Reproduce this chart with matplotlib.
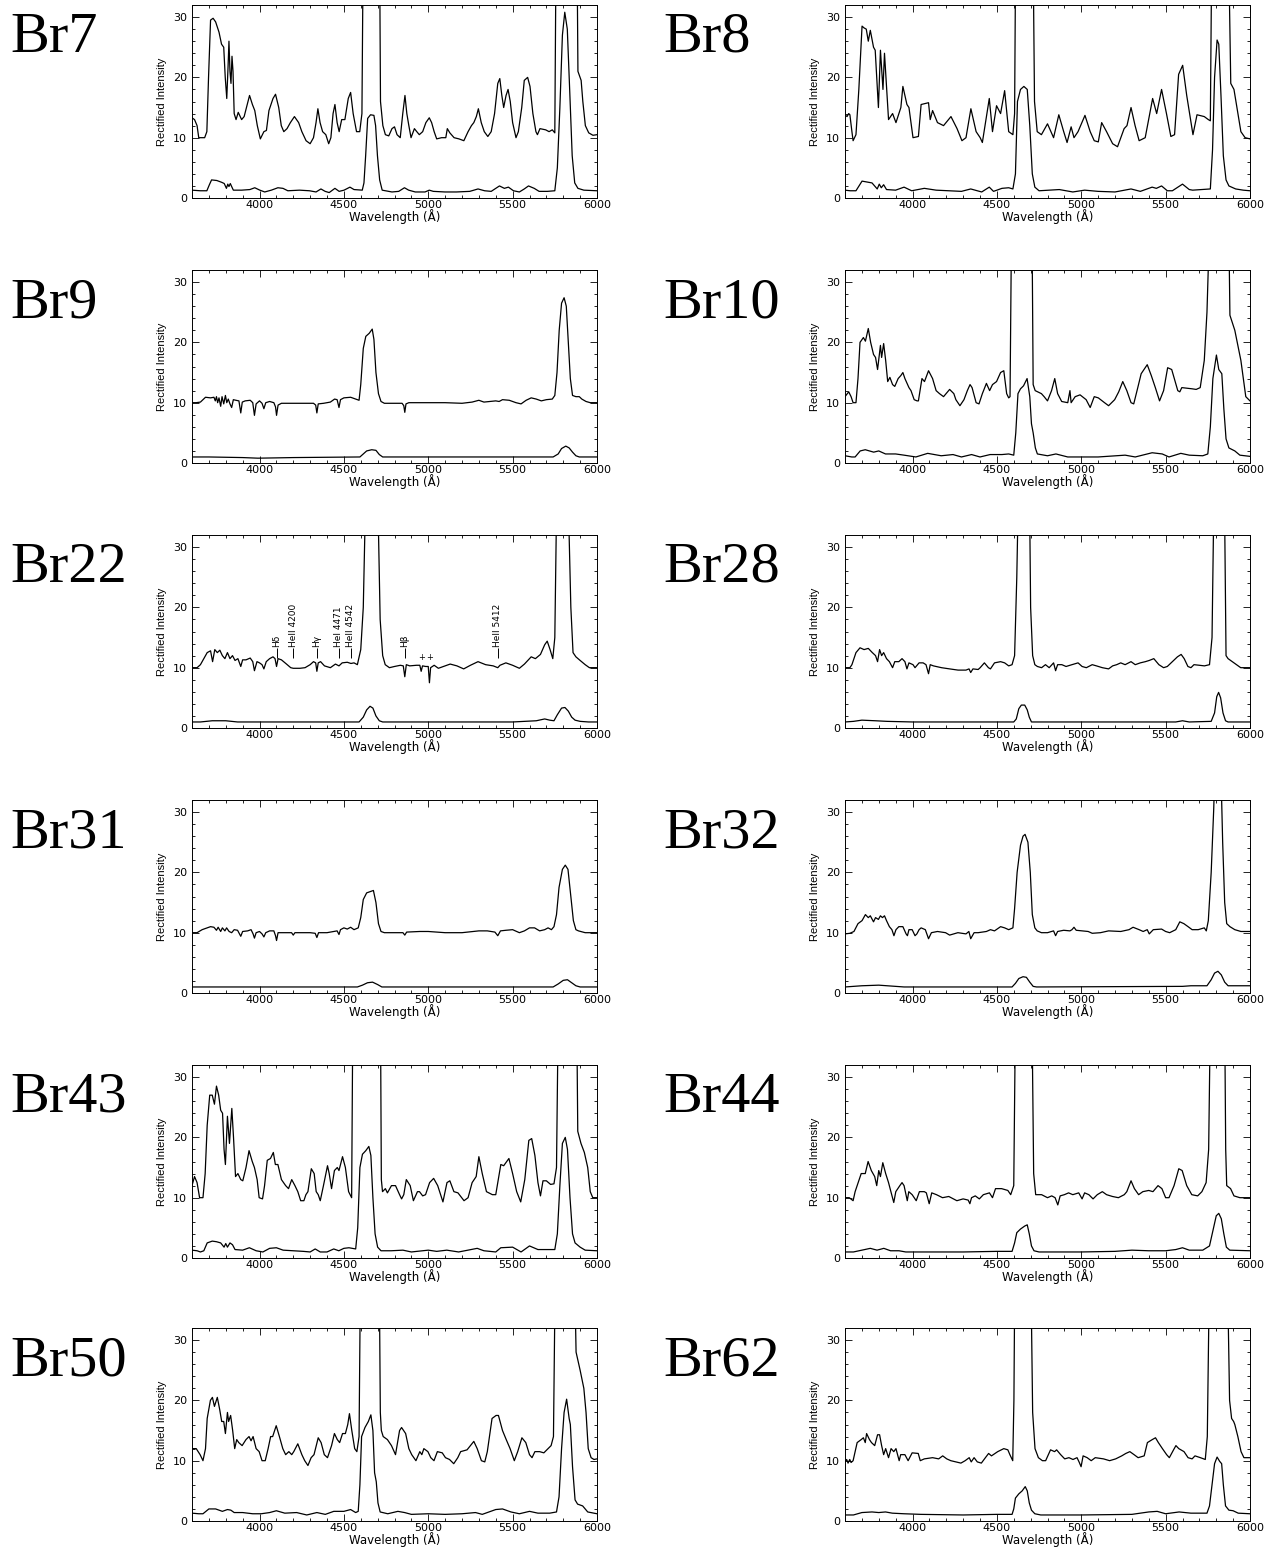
import matplotlib.pyplot as plt
from matplotlib.ticker import MultipleLocator

# spectra as (wavelength, rectified intensity) pairs; the upper trace is offset by +9
br7_top = [(3600, 13.3), (3615, 13.0), (3630, 12.0), (3640, 10.0), (3675, 10.0), (3688, 11.0), (3698, 20.0),
           (3710, 29.5), (3725, 29.8), (3740, 29.2), (3760, 27.5), (3775, 25.5), (3788, 25.0), (3797, 20.0),
           (3806, 16.5), (3814, 22.0), (3819, 26.0), (3825, 21.0), (3831, 19.0), (3837, 23.5), (3843, 21.0),
           (3850, 14.0), (3861, 13.0), (3874, 14.2), (3894, 13.0), (3909, 13.5), (3923, 15.0), (3941, 17.0),
           (3958, 15.5), (3972, 14.5), (3987, 12.0), (4005, 9.8), (4026, 11.0), (4041, 11.2), (4056, 14.5),
           (4080, 16.5), (4095, 17.2), (4114, 15.0), (4129, 12.0), (4144, 11.0), (4163, 11.5), (4183, 12.5),
           (4207, 13.5), (4232, 12.5), (4251, 11.0), (4276, 9.5), (4300, 9.0), (4320, 10.0), (4335, 12.5),
           (4346, 14.8), (4359, 12.5), (4374, 11.0), (4393, 10.5), (4410, 9.0), (4423, 10.0), (4436, 14.0),
           (4447, 15.5), (4460, 12.5), (4472, 11.0), (4487, 13.0), (4506, 13.0), (4526, 16.5), (4540, 17.5),
           (4555, 14.0), (4575, 11.0), (4594, 11.0), (4607, 14.0), (4614, 40), (4712, 40), (4717, 16.0),
           (4731, 12.0), (4746, 10.5), (4766, 10.3), (4785, 11.5), (4800, 11.8), (4815, 10.5), (4834, 10.0),
           (4849, 14.0), (4862, 17.0), (4873, 14.0), (4885, 12.0), (4898, 10.0), (4918, 11.5), (4932, 11.0),
           (4947, 10.5), (4967, 11.0), (4986, 12.5), (5006, 13.3), (5020, 12.5), (5035, 11.0), (5050, 9.8),
           (5079, 10.0), (5104, 10.0), (5113, 11.5), (5128, 10.8), (5153, 10.0), (5182, 9.8), (5211, 9.5),
           (5236, 11.0), (5256, 12.0), (5270, 12.5), (5285, 13.5), (5297, 14.8), (5314, 12.5), (5332, 11.0),
           (5353, 10.2), (5373, 11.0), (5393, 14.0), (5412, 19.0), (5424, 19.8), (5436, 17.0), (5447, 15.0),
           (5461, 17.0), (5473, 18.0), (5486, 16.0), (5500, 12.5), (5520, 10.0), (5534, 11.0), (5554, 15.0),
           (5569, 19.5), (5589, 20.0), (5603, 18.5), (5620, 14.0), (5638, 11.0), (5647, 10.5), (5662, 11.5),
           (5696, 11.3), (5716, 11.0), (5735, 11.3), (5750, 10.8), (5757, 40), (5882, 40), (5887, 21.0),
           (5906, 19.5), (5916, 16.0), (5931, 12.0), (5951, 10.8), (5976, 10.4), (6000, 10.5)]
br7_low = [(3600, 1.3), (3649, 1.2), (3688, 1.2), (3703, 2.2), (3716, 3.0), (3747, 2.9), (3776, 2.6),
           (3791, 2.4), (3804, 1.6), (3812, 2.3), (3819, 1.9), (3827, 2.4), (3835, 1.9), (3845, 1.3), (3894, 1.3),
           (3943, 1.4), (3972, 1.7), (4002, 1.3), (4031, 1.0), (4070, 1.3), (4109, 1.7), (4139, 1.6), (4168, 1.2),
           (4237, 1.3), (4296, 1.2), (4335, 1.0), (4364, 1.5), (4389, 1.1), (4413, 0.9), (4447, 1.6), (4472, 1.1),
           (4501, 1.3), (4536, 1.8), (4560, 1.4), (4609, 1.3), (4619, 2.5), (4629, 7.0), (4641, 13.2),
           (4658, 13.8), (4678, 13.7), (4688, 12.0), (4699, 7.0), (4712, 3.0), (4727, 1.3), (4785, 1.0),
           (4825, 1.1), (4859, 1.7), (4884, 1.3), (4923, 1.0), (4981, 1.0), (5006, 1.3), (5030, 1.1), (5099, 1.0),
           (5167, 1.0), (5246, 1.1), (5295, 1.5), (5334, 1.2), (5373, 1.1), (5422, 2.0), (5451, 1.6), (5475, 1.8),
           (5505, 1.2), (5540, 1.0), (5569, 1.5), (5594, 2.0), (5628, 1.6), (5657, 1.1), (5706, 1.1), (5750, 1.2),
           (5765, 5.0), (5780, 15.0), (5795, 27.0), (5809, 30.8), (5824, 28.0), (5838, 18.0), (5853, 7.0),
           (5868, 2.5), (5887, 1.6), (5922, 1.3), (6000, 1.2)]

br8_top = [(3600, 13.8), (3612, 13.5), (3622, 14.0), (3629, 13.8), (3641, 11.0), (3648, 9.5), (3665, 10.5),
           (3682, 18.0), (3701, 28.5), (3713, 28.2), (3726, 28.0), (3738, 26.0), (3750, 27.8), (3769, 25.0),
           (3779, 24.5), (3798, 15.0), (3810, 24.5), (3825, 18.0), (3834, 24.0), (3858, 13.0), (3882, 14.0),
           (3902, 12.5), (3931, 15.0), (3943, 18.5), (3967, 15.5), (3979, 15.0), (4003, 10.0), (4035, 10.2),
           (4051, 15.5), (4095, 15.8), (4105, 13.0), (4119, 14.5), (4148, 12.5), (4184, 12.0), (4228, 13.5),
           (4264, 11.5), (4293, 9.5), (4317, 10.0), (4346, 14.8), (4377, 11.0), (4401, 10.0), (4414, 9.2),
           (4455, 16.5), (4474, 11.0), (4498, 15.3), (4522, 14.0), (4546, 17.8), (4570, 11.0), (4595, 10.5),
           (4605, 14.0), (4611, 40), (4715, 40), (4723, 16.0), (4739, 11.0), (4764, 10.5), (4800, 12.3),
           (4836, 10.0), (4867, 13.8), (4896, 11.0), (4916, 9.2), (4940, 11.8), (4957, 10.0), (4981, 11.0),
           (5022, 13.7), (5053, 11.0), (5077, 9.5), (5101, 9.3), (5121, 12.5), (5150, 11.0), (5186, 9.0),
           (5215, 8.5), (5254, 11.5), (5271, 12.0), (5295, 15.0), (5319, 12.0), (5343, 9.5), (5379, 10.0),
           (5423, 16.5), (5447, 14.0), (5476, 18.0), (5505, 14.0), (5531, 10.2), (5553, 10.5), (5577, 20.5),
           (5601, 22.0), (5625, 17.0), (5662, 10.5), (5686, 13.8), (5729, 13.5), (5753, 13.0), (5765, 12.8),
           (5773, 40), (5874, 40), (5886, 19.0), (5905, 18.0), (5946, 11.0), (5971, 10.0), (6000, 9.8)]
br8_low = [(3600, 1.3), (3630, 1.2), (3665, 1.2), (3701, 2.8), (3760, 2.5), (3791, 1.5), (3803, 2.3),
           (3815, 1.7), (3829, 2.2), (3846, 1.4), (3900, 1.3), (3950, 1.8), (3995, 1.2), (4070, 1.6), (4140, 1.3),
           (4290, 1.1), (4345, 1.5), (4410, 1.0), (4455, 1.8), (4480, 1.1), (4530, 1.6), (4570, 1.7), (4595, 1.5),
           (4610, 4.0), (4622, 16.0), (4640, 18.0), (4660, 18.5), (4680, 18.0), (4695, 12.0), (4710, 4.0),
           (4725, 1.8), (4750, 1.2), (4870, 1.4), (4950, 1.0), (5020, 1.3), (5100, 1.1), (5200, 1.0), (5295, 1.5),
           (5350, 1.1), (5420, 1.8), (5445, 1.6), (5476, 2.0), (5510, 1.2), (5540, 1.2), (5600, 2.3), (5640, 1.4),
           (5660, 1.3), (5765, 1.5), (5778, 8.0), (5790, 20.0), (5805, 26.2), (5815, 25.5), (5828, 17.0),
           (5842, 7.0), (5858, 3.0), (5875, 2.0), (5915, 1.5), (5960, 1.3), (6000, 1.2)]

br9_top = [(3600, 10.0), (3625, 10.0), (3650, 10.1), (3665, 10.5), (3680, 10.9), (3710, 10.8), (3730, 10.9),
           (3738, 10.3), (3745, 11.0), (3752, 10.0), (3760, 10.8), (3770, 9.4), (3778, 11.0), (3788, 9.8),
           (3798, 11.2), (3806, 10.0), (3815, 10.6), (3825, 9.8), (3835, 9.2), (3845, 10.5), (3860, 10.4),
           (3878, 10.3), (3889, 8.3), (3898, 10.1), (3915, 10.3), (3945, 10.4), (3960, 10.0), (3970, 7.9),
           (3980, 9.8), (4000, 10.3), (4015, 9.9), (4026, 9.0), (4037, 10.0), (4060, 10.2), (4085, 10.0),
           (4095, 9.3), (4101, 7.9), (4110, 9.6), (4130, 9.9), (4200, 9.9), (4320, 9.9), (4333, 9.6), (4340, 8.3),
           (4348, 9.8), (4380, 9.9), (4420, 10.1), (4445, 10.6), (4460, 10.5), (4471, 9.2), (4480, 10.5),
           (4500, 10.8), (4540, 10.9), (4570, 10.6), (4590, 10.4), (4600, 13.0), (4615, 19.0), (4630, 21.0),
           (4650, 21.5), (4668, 22.2), (4678, 20.5), (4690, 15.0), (4705, 11.5), (4720, 10.2), (4740, 9.9),
           (4800, 9.9), (4845, 9.9), (4855, 9.5), (4861, 8.4), (4868, 9.8), (4885, 10.0), (5000, 10.0),
           (5100, 10.0), (5200, 9.9), (5260, 10.1), (5300, 10.4), (5330, 10.1), (5400, 10.3), (5420, 10.2),
           (5440, 10.5), (5480, 10.4), (5520, 10.0), (5550, 9.8), (5580, 10.4), (5610, 10.8), (5640, 10.6),
           (5670, 10.3), (5700, 10.5), (5735, 10.6), (5750, 11.2), (5763, 15.0), (5776, 22.0), (5790, 26.5),
           (5805, 27.4), (5818, 26.0), (5830, 20.0), (5842, 14.0), (5855, 11.2), (5875, 11.0), (5895, 11.0),
           (5910, 10.6), (5935, 10.2), (5960, 10.0), (6000, 10.0)]
br9_low = [(3600, 1.0), (3700, 1.0), (3900, 0.9), (3990, 0.8), (4100, 0.85), (4200, 0.9), (4595, 1.0),
           (4615, 1.5), (4635, 2.0), (4665, 2.2), (4690, 2.1), (4710, 1.4), (4730, 1.0), (5740, 1.0), (5770, 1.5),
           (5790, 2.4), (5815, 2.8), (5835, 2.5), (5855, 1.8), (5875, 1.2), (5895, 1.0), (6000, 1.0)]

br10_top = [(3600, 11.0), (3622, 11.8), (3636, 11.0), (3648, 10.0), (3665, 10.0), (3677, 14.0), (3689, 20.0),
            (3709, 20.8), (3721, 20.2), (3738, 22.3), (3752, 20.0), (3769, 18.0), (3781, 17.5), (3793, 15.5),
            (3810, 19.5), (3817, 17.5), (3829, 19.8), (3841, 17.0), (3853, 13.5), (3866, 14.2), (3882, 13.0),
            (3895, 12.7), (3915, 14.0), (3931, 14.5), (3943, 15.0), (3955, 14.0), (3979, 12.5), (3991, 12.0),
            (4010, 10.5), (4027, 10.3), (4035, 10.3), (4056, 14.0), (4071, 13.5), (4095, 15.3), (4119, 14.0),
            (4140, 12.0), (4160, 11.5), (4184, 11.0), (4220, 12.2), (4245, 11.5), (4257, 10.5), (4281, 9.5),
            (4305, 10.5), (4325, 12.0), (4341, 13.0), (4353, 12.5), (4377, 10.0), (4394, 9.8), (4414, 11.5),
            (4438, 13.2), (4457, 12.0), (4474, 13.0), (4498, 13.5), (4522, 15.0), (4541, 15.3), (4558, 11.5),
            (4570, 10.8), (4578, 11.0), (4587, 40), (4708, 40), (4715, 13.0), (4727, 12.0), (4764, 11.5),
            (4780, 11.0), (4800, 10.3), (4824, 12.0), (4843, 14.0), (4860, 11.5), (4884, 10.2), (4920, 10.0),
            (4933, 12.0), (4940, 10.0), (4964, 11.0), (4993, 11.3), (5029, 10.5), (5053, 9.2), (5077, 11.0),
            (5101, 10.8), (5138, 10.0), (5162, 9.5), (5198, 10.5), (5222, 11.8), (5246, 13.5), (5270, 12.0),
            (5295, 10.0), (5311, 9.8), (5335, 12.5), (5355, 14.8), (5391, 16.3), (5415, 14.5), (5439, 12.5),
            (5464, 10.3), (5488, 12.0), (5512, 15.8), (5536, 15.5), (5572, 12.0), (5584, 11.8), (5596, 12.5),
            (5657, 12.3), (5681, 12.2), (5705, 12.5), (5729, 17.0), (5745, 25.0), (5761, 40), (5874, 40),
            (5881, 24.5), (5910, 22.0), (5946, 17.0), (5975, 11.0), (6000, 10.3)]
br10_low = [(3600, 1.2), (3640, 1.0), (3660, 1.0), (3690, 2.0), (3720, 2.2), (3770, 1.8), (3800, 2.0),
            (3840, 1.5), (3900, 1.5), (3950, 1.3), (4020, 1.0), (4090, 1.6), (4170, 1.2), (4240, 1.4), (4290, 1.0),
            (4350, 1.4), (4400, 1.0), (4460, 1.4), (4530, 1.4), (4570, 1.5), (4600, 1.3), (4612, 5.0),
            (4625, 11.5), (4640, 12.3), (4658, 12.8), (4679, 14.0), (4695, 11.0), (4705, 6.5), (4715, 5.0),
            (4728, 2.5), (4740, 1.5), (4800, 1.2), (4850, 1.5), (4920, 1.0), (5100, 1.0), (5260, 1.3), (5320, 1.0),
            (5420, 1.7), (5480, 1.5), (5520, 1.0), (5590, 1.6), (5640, 1.3), (5720, 1.2), (5750, 1.5), (5765, 6.0),
            (5780, 14.0), (5801, 17.9), (5815, 15.5), (5833, 14.8), (5845, 9.0), (5858, 4.0), (5875, 2.5),
            (5910, 2.0), (5940, 1.3), (6000, 1.1)]

br22_top = [(3600, 10.0), (3630, 10.0), (3650, 10.5), (3670, 11.5), (3690, 12.5), (3710, 12.8), (3722, 11.0),
            (3735, 13.0), (3750, 12.5), (3765, 12.9), (3780, 12.0), (3795, 11.5), (3810, 12.5), (3825, 11.5),
            (3840, 12.0), (3855, 11.2), (3872, 11.5), (3889, 10.2), (3900, 11.3), (3920, 11.3), (3945, 11.6),
            (3960, 11.0), (3970, 9.5), (3985, 11.0), (4000, 10.8), (4015, 10.5), (4026, 9.8), (4040, 11.0),
            (4060, 11.5), (4080, 11.8), (4092, 11.5), (4101, 10.2), (4110, 11.5), (4130, 11.3), (4160, 10.6),
            (4185, 10.0), (4200, 9.9), (4240, 9.9), (4270, 10.0), (4300, 10.5), (4320, 11.0), (4333, 10.8),
            (4340, 9.4), (4348, 10.8), (4362, 11.0), (4385, 10.3), (4420, 10.0), (4450, 10.6), (4471, 10.3),
            (4490, 10.8), (4520, 10.9), (4542, 10.7), (4560, 10.8), (4580, 10.5), (4600, 13.0), (4615, 20.0),
            (4630, 40), (4700, 40), (4715, 18.0), (4730, 12.0), (4745, 10.5), (4770, 10.0), (4800, 10.2),
            (4835, 10.4), (4852, 10.3), (4861, 8.5), (4870, 10.5), (4890, 10.3), (4930, 10.4), (4950, 10.4),
            (4958, 9.4), (4966, 10.3), (4985, 10.2), (5000, 10.2), (5007, 7.5), (5014, 10.0), (5035, 10.4),
            (5060, 9.9), (5090, 10.2), (5130, 10.6), (5170, 10.3), (5210, 9.8), (5250, 10.4), (5295, 11.0),
            (5340, 10.5), (5385, 10.3), (5412, 10.0), (5425, 10.4), (5460, 10.8), (5500, 10.4), (5540, 9.9),
            (5570, 10.6), (5610, 11.8), (5635, 11.5), (5665, 12.2), (5690, 13.8), (5705, 14.4), (5722, 13.0),
            (5738, 11.5), (5750, 15.0), (5762, 40), (5828, 40), (5845, 20.0), (5858, 12.5), (5875, 11.8),
            (5900, 11.2), (5930, 10.5), (5955, 10.0), (6000, 10.0)]
br22_low = [(3600, 1.0), (3650, 1.0), (3720, 1.2), (3800, 1.2), (3870, 1.0), (4100, 1.0), (4400, 1.0),
            (4590, 1.0), (4615, 1.8), (4635, 3.0), (4655, 3.6), (4672, 3.3), (4690, 2.0), (4710, 1.2), (4730, 1.0),
            (5500, 1.0), (5640, 1.2), (5690, 1.5), (5720, 1.3), (5745, 1.2), (5765, 2.2), (5790, 3.3), (5810, 3.4),
            (5830, 2.8), (5850, 1.8), (5870, 1.3), (5900, 1.1), (5950, 1.0), (6000, 1.0)]

br28_top = [(3600, 10.0), (3629, 10.0), (3641, 10.5), (3665, 12.5), (3689, 13.3), (3713, 13.0), (3738, 13.2),
            (3762, 12.5), (3781, 12.0), (3793, 11.0), (3805, 13.0), (3817, 12.0), (3829, 12.5), (3846, 11.5),
            (3863, 11.0), (3882, 10.0), (3895, 11.0), (3919, 11.0), (3938, 11.5), (3955, 11.0), (3967, 9.8),
            (3979, 10.8), (4003, 10.5), (4015, 10.0), (4039, 10.8), (4063, 10.8), (4080, 10.5), (4095, 9.0),
            (4105, 10.5), (4124, 10.3), (4172, 10.0), (4220, 9.8), (4270, 9.6), (4317, 9.6), (4335, 9.8),
            (4345, 9.2), (4358, 9.8), (4389, 9.7), (4401, 10.0), (4426, 10.8), (4450, 10.0), (4462, 9.8),
            (4486, 10.8), (4522, 11.0), (4546, 10.8), (4570, 10.3), (4590, 10.5), (4605, 12.0), (4618, 25.0),
            (4628, 40), (4693, 40), (4700, 20.0), (4712, 12.0), (4725, 10.5), (4740, 10.2), (4765, 10.0),
            (4788, 10.5), (4810, 10.0), (4836, 10.8), (4848, 9.5), (4860, 10.5), (4885, 10.5), (4910, 10.2),
            (4945, 10.5), (4981, 10.8), (5005, 10.2), (5030, 10.0), (5065, 10.5), (5090, 10.3), (5125, 10.0),
            (5162, 9.8), (5186, 10.3), (5210, 10.5), (5234, 10.8), (5260, 10.5), (5295, 11.0), (5320, 10.5),
            (5350, 10.8), (5380, 11.0), (5403, 11.2), (5430, 11.5), (5460, 10.5), (5488, 10.0), (5510, 10.2),
            (5540, 11.0), (5570, 11.8), (5592, 12.2), (5610, 11.5), (5632, 10.2), (5650, 10.0), (5668, 10.5),
            (5700, 10.4), (5730, 10.3), (5760, 10.5), (5775, 15.0), (5787, 40), (5848, 40), (5858, 12.0),
            (5870, 11.5), (5895, 11.0), (5920, 10.5), (5945, 10.0), (6000, 10.0)]
br28_low = [(3600, 1.0), (3650, 1.1), (3700, 1.3), (3780, 1.2), (3850, 1.1), (4000, 1.0), (4600, 1.0),
            (4615, 1.5), (4630, 3.2), (4645, 3.8), (4665, 3.8), (4680, 3.0), (4692, 1.8), (4705, 1.0), (5560, 1.0),
            (5600, 1.2), (5640, 1.0), (5770, 1.1), (5790, 2.5), (5803, 5.2), (5814, 5.9), (5826, 5.0), (5840, 2.5),
            (5855, 1.2), (5870, 1.0), (6000, 1.0)]

br31_top = [(3600, 10.0), (3630, 10.0), (3660, 10.5), (3690, 10.8), (3710, 11.0), (3730, 10.9), (3745, 10.4),
            (3755, 10.9), (3770, 10.2), (3780, 10.8), (3795, 10.3), (3805, 10.8), (3820, 10.2), (3835, 10.0),
            (3850, 10.5), (3870, 10.4), (3889, 9.4), (3900, 10.2), (3930, 10.3), (3950, 10.5), (3962, 9.8),
            (3970, 9.1), (3980, 10.0), (4000, 10.2), (4015, 9.8), (4026, 9.3), (4037, 10.0), (4060, 10.3),
            (4085, 10.3), (4095, 9.5), (4101, 8.7), (4110, 10.0), (4140, 10.0), (4190, 10.0), (4200, 9.6),
            (4210, 10.0), (4300, 10.0), (4330, 9.9), (4340, 9.2), (4350, 10.0), (4400, 10.0), (4440, 10.2),
            (4460, 10.3), (4471, 9.7), (4480, 10.5), (4500, 10.8), (4520, 10.6), (4540, 10.9), (4560, 10.5),
            (4585, 10.8), (4600, 12.5), (4615, 15.5), (4635, 16.6), (4655, 16.8), (4675, 17.0), (4690, 15.0),
            (4705, 11.5), (4720, 10.2), (4740, 10.0), (4800, 10.0), (4850, 10.0), (4861, 9.6), (4872, 10.1),
            (4950, 10.2), (5000, 10.2), (5100, 10.0), (5200, 10.0), (5300, 10.3), (5350, 10.3), (5395, 10.1),
            (5412, 9.5), (5428, 10.3), (5460, 10.4), (5500, 10.5), (5540, 10.0), (5570, 10.3), (5600, 10.8),
            (5630, 10.8), (5660, 10.3), (5690, 10.5), (5710, 10.8), (5730, 10.5), (5745, 11.0), (5760, 13.0),
            (5775, 17.5), (5795, 20.5), (5812, 21.2), (5828, 20.5), (5845, 16.0), (5860, 12.0), (5875, 10.5),
            (5890, 10.3), (5930, 10.0), (6000, 10.0)]
br31_low = [(3600, 1.0), (4580, 1.0), (4610, 1.3), (4640, 1.7), (4670, 1.8), (4700, 1.4), (4725, 1.0),
            (5740, 1.0), (5770, 1.5), (5800, 2.1), (5825, 2.2), (5850, 1.7), (5875, 1.2), (5900, 1.0), (6000, 1.0)]

br32_top = [(3600, 9.8), (3629, 9.9), (3653, 10.2), (3677, 11.5), (3701, 12.0), (3721, 13.0), (3738, 12.5),
            (3750, 12.8), (3769, 11.8), (3781, 12.5), (3798, 12.2), (3810, 12.8), (3822, 12.5), (3834, 12.8),
            (3846, 12.0), (3863, 11.0), (3878, 10.5), (3890, 9.5), (3902, 10.5), (3919, 11.0), (3943, 11.0),
            (3962, 9.8), (3970, 9.5), (3979, 10.5), (3998, 10.5), (4015, 9.5), (4026, 9.8), (4039, 10.5),
            (4051, 10.8), (4076, 10.5), (4095, 9.0), (4112, 10.0), (4148, 10.2), (4196, 10.0), (4220, 9.6),
            (4269, 10.0), (4317, 9.8), (4334, 10.2), (4345, 9.0), (4365, 10.0), (4389, 10.0), (4438, 10.2),
            (4462, 10.5), (4486, 10.3), (4522, 11.0), (4546, 10.8), (4570, 10.5), (4595, 10.8), (4605, 14.0),
            (4620, 20.0), (4640, 24.5), (4655, 26.0), (4667, 26.3), (4684, 25.0), (4698, 20.0), (4710, 13.0),
            (4725, 10.8), (4739, 10.3), (4764, 10.0), (4800, 10.0), (4836, 10.3), (4848, 9.5), (4860, 10.2),
            (4896, 10.4), (4933, 10.3), (4945, 10.5), (4957, 10.9), (4970, 10.4), (5041, 10.2), (5065, 9.9),
            (5114, 10.0), (5162, 10.3), (5234, 10.2), (5283, 10.5), (5307, 10.9), (5343, 10.5), (5367, 10.2),
            (5391, 10.5), (5403, 9.8), (5427, 10.5), (5476, 10.6), (5500, 10.2), (5524, 10.0), (5560, 10.5),
            (5584, 11.8), (5608, 11.5), (5633, 11.0), (5657, 10.5), (5693, 10.5), (5729, 10.8), (5741, 10.3),
            (5753, 12.0), (5770, 20.0), (5785, 30.5), (5795, 40), (5825, 40), (5838, 25.0), (5850, 15.0),
            (5862, 11.5), (5881, 11.0), (5910, 10.5), (5946, 10.2), (6000, 10.2)]
br32_low = [(3600, 1.0), (3650, 1.1), (3700, 1.2), (3800, 1.3), (3850, 1.2), (3950, 1.0), (4050, 1.0),
            (4590, 1.0), (4610, 1.6), (4630, 2.4), (4655, 2.7), (4675, 2.6), (4695, 1.8), (4715, 1.1), (4735, 1.0),
            (5600, 1.1), (5650, 1.2), (5745, 1.2), (5770, 2.2), (5790, 3.3), (5810, 3.6), (5830, 3.0), (5850, 1.8),
            (5870, 1.2), (6000, 1.2)]

br43_top = [(3600, 12.0), (3615, 13.5), (3630, 12.5), (3645, 10.0), (3665, 10.0), (3678, 14.0), (3690, 22.0),
            (3705, 27.0), (3720, 27.0), (3733, 25.5), (3745, 28.5), (3758, 27.0), (3770, 24.5), (3781, 24.0),
            (3790, 18.0), (3798, 15.5), (3810, 23.5), (3822, 19.0), (3836, 24.8), (3846, 20.0), (3858, 13.5),
            (3872, 14.0), (3889, 13.0), (3901, 12.8), (3920, 15.0), (3938, 17.8), (3957, 16.0), (3970, 15.0),
            (3986, 13.0), (3998, 10.0), (4018, 9.8), (4030, 12.0), (4046, 16.2), (4065, 16.5), (4082, 17.5),
            (4094, 15.5), (4109, 15.5), (4130, 13.0), (4155, 12.0), (4172, 11.5), (4191, 13.0), (4210, 12.0),
            (4227, 11.0), (4244, 9.5), (4263, 9.5), (4275, 10.5), (4287, 11.0), (4307, 14.8), (4324, 14.0),
            (4336, 11.0), (4348, 10.5), (4360, 9.5), (4379, 12.0), (4403, 15.3), (4413, 14.0), (4427, 11.5),
            (4444, 14.5), (4461, 15.0), (4471, 14.5), (4492, 16.8), (4509, 15.0), (4528, 11.0), (4546, 10.0),
            (4553, 40), (4717, 40), (4722, 13.0), (4729, 11.0), (4746, 11.5), (4758, 10.8), (4782, 12.0),
            (4806, 12.0), (4830, 10.5), (4842, 9.8), (4855, 10.5), (4870, 13.0), (4893, 12.0), (4912, 9.5),
            (4936, 11.0), (4948, 11.0), (4967, 10.3), (4984, 10.5), (5008, 12.5), (5032, 13.2), (5056, 12.0),
            (5087, 9.3), (5111, 12.5), (5128, 12.8), (5152, 11.0), (5176, 10.8), (5212, 9.5), (5236, 10.0),
            (5260, 12.5), (5284, 13.5), (5300, 16.8), (5320, 14.0), (5345, 11.0), (5380, 10.5), (5400, 10.5),
            (5430, 15.5), (5447, 15.3), (5478, 16.5), (5500, 14.0), (5524, 11.0), (5548, 9.3), (5572, 13.0),
            (5596, 19.5), (5613, 19.8), (5632, 17.0), (5650, 12.5), (5665, 10.3), (5680, 12.8), (5700, 12.8),
            (5725, 12.2), (5745, 12.3), (5760, 15.0), (5770, 40), (5880, 40), (5886, 21.0), (5905, 19.0),
            (5925, 17.5), (5945, 15.0), (5960, 11.0), (5975, 10.0), (6000, 10.0)]
br43_low = [(3600, 1.3), (3630, 1.2), (3650, 1.0), (3670, 1.2), (3690, 2.5), (3720, 2.8), (3745, 2.7),
            (3770, 2.5), (3790, 1.8), (3800, 2.4), (3810, 1.8), (3825, 2.5), (3840, 2.2), (3855, 1.4), (3900, 1.3),
            (3940, 1.7), (3980, 1.2), (4020, 1.0), (4060, 1.6), (4100, 1.7), (4140, 1.3), (4200, 1.2), (4260, 1.1),
            (4300, 1.0), (4330, 1.5), (4360, 1.0), (4400, 1.0), (4440, 1.5), (4470, 1.2), (4500, 1.6), (4530, 1.7),
            (4570, 1.5), (4582, 5.0), (4595, 15.0), (4610, 17.2), (4630, 17.8), (4648, 18.5), (4660, 17.0),
            (4672, 10.0), (4685, 4.0), (4700, 1.8), (4720, 1.2), (4780, 1.2), (4850, 1.3), (4900, 1.0),
            (5000, 1.3), (5050, 1.1), (5110, 1.3), (5180, 1.0), (5290, 1.6), (5330, 1.2), (5400, 1.0), (5430, 1.7),
            (5500, 1.8), (5550, 1.0), (5600, 2.0), (5650, 1.4), (5700, 1.4), (5750, 1.4), (5765, 4.0),
            (5780, 12.0), (5795, 19.0), (5812, 20.0), (5825, 18.0), (5840, 10.0), (5855, 4.0), (5870, 2.5),
            (5900, 1.8), (5930, 1.3), (6000, 1.2)]

br44_top = [(3600, 10.0), (3625, 10.0), (3648, 9.5), (3660, 11.0), (3672, 12.0), (3696, 14.0), (3720, 14.0),
            (3737, 16.0), (3756, 14.5), (3776, 13.5), (3788, 12.0), (3800, 14.5), (3810, 13.5), (3824, 15.8),
            (3841, 14.0), (3858, 12.5), (3872, 11.0), (3889, 9.2), (3901, 11.0), (3925, 12.0), (3938, 12.5),
            (3950, 12.0), (3969, 9.5), (3978, 11.0), (3998, 10.5), (4022, 9.5), (4041, 11.0), (4070, 11.0),
            (4082, 10.8), (4099, 9.0), (4114, 10.8), (4142, 10.5), (4178, 10.0), (4215, 10.2), (4263, 9.5),
            (4300, 9.8), (4330, 9.6), (4340, 9.0), (4350, 10.0), (4372, 10.3), (4396, 9.8), (4420, 10.5),
            (4456, 10.8), (4474, 10.0), (4492, 11.5), (4528, 11.5), (4565, 11.2), (4582, 10.5), (4600, 12.0),
            (4610, 40), (4708, 40), (4718, 14.0), (4730, 10.5), (4765, 10.5), (4800, 10.0), (4825, 10.3),
            (4845, 10.0), (4861, 8.8), (4875, 10.3), (4900, 10.5), (4925, 10.8), (4950, 10.5), (4985, 10.8),
            (5005, 9.8), (5020, 10.8), (5045, 10.5), (5070, 9.8), (5095, 10.5), (5125, 11.0), (5150, 10.5),
            (5185, 10.2), (5220, 10.0), (5255, 10.5), (5270, 11.0), (5295, 12.8), (5315, 11.5), (5340, 10.5),
            (5365, 11.0), (5400, 11.2), (5425, 11.0), (5455, 12.0), (5478, 11.5), (5500, 10.0), (5520, 10.0),
            (5550, 12.0), (5578, 14.8), (5598, 14.5), (5625, 12.0), (5655, 10.5), (5690, 10.3), (5715, 11.0),
            (5740, 12.5), (5755, 18.0), (5765, 40), (5850, 40), (5856, 18.0), (5862, 12.0), (5885, 11.5),
            (5905, 10.3), (5940, 10.0), (6000, 10.0)]
br44_low = [(3600, 1.0), (3650, 1.0), (3700, 1.3), (3750, 1.6), (3790, 1.3), (3830, 1.6), (3870, 1.2),
            (3920, 1.2), (3960, 1.0), (4100, 1.0), (4300, 1.0), (4500, 1.1), (4590, 1.1), (4605, 2.5), (4618, 4.2),
            (4640, 4.8), (4665, 5.3), (4680, 5.5), (4692, 4.0), (4705, 2.0), (4720, 1.2), (4750, 1.0), (5000, 1.0),
            (5200, 1.1), (5300, 1.3), (5400, 1.2), (5500, 1.2), (5560, 1.4), (5600, 1.7), (5640, 1.3), (5720, 1.3),
            (5760, 2.0), (5780, 4.5), (5800, 7.0), (5815, 7.4), (5830, 6.5), (5845, 4.0), (5860, 1.8), (5880, 1.3),
            (6000, 1.2)]

br50_top = [(3600, 12.0), (3625, 12.0), (3648, 11.0), (3665, 10.0), (3680, 12.0), (3690, 17.0), (3709, 20.0),
            (3721, 20.5), (3733, 19.0), (3750, 20.5), (3764, 18.5), (3776, 16.5), (3788, 16.5), (3798, 14.5),
            (3810, 18.0), (3817, 16.5), (3829, 17.5), (3841, 15.0), (3853, 12.0), (3865, 13.5), (3877, 13.0),
            (3897, 12.5), (3920, 13.5), (3938, 14.0), (3950, 13.3), (3962, 14.0), (3980, 12.0), (3998, 11.5),
            (4015, 10.0), (4034, 10.0), (4051, 12.0), (4066, 14.0), (4078, 14.0), (4099, 15.8), (4118, 14.0),
            (4138, 12.0), (4155, 11.0), (4174, 11.5), (4191, 11.0), (4203, 11.5), (4227, 12.8), (4251, 11.0),
            (4268, 10.0), (4287, 9.2), (4306, 10.5), (4323, 11.0), (4348, 13.8), (4365, 13.0), (4384, 11.0),
            (4403, 10.5), (4427, 12.5), (4444, 14.5), (4461, 13.5), (4475, 13.0), (4492, 14.5), (4509, 14.5),
            (4523, 16.0), (4533, 17.8), (4547, 15.0), (4564, 12.0), (4577, 11.5), (4590, 14.0), (4598, 40),
            (4710, 40), (4716, 18.0), (4722, 15.0), (4733, 14.0), (4758, 13.5), (4782, 12.5), (4806, 11.0),
            (4830, 15.0), (4842, 15.5), (4866, 14.5), (4885, 12.0), (4902, 11.0), (4927, 10.0), (4950, 11.5),
            (4962, 11.0), (4974, 12.0), (4998, 11.5), (5015, 10.5), (5034, 10.0), (5054, 11.5), (5083, 11.3),
            (5102, 10.5), (5126, 10.2), (5151, 9.5), (5175, 10.5), (5192, 11.5), (5230, 11.8), (5270, 13.2),
            (5290, 12.0), (5315, 10.0), (5335, 9.8), (5350, 11.5), (5378, 17.0), (5402, 17.5), (5416, 17.5),
            (5440, 15.0), (5462, 13.5), (5485, 12.0), (5510, 10.0), (5530, 11.5), (5555, 13.8), (5578, 13.0),
            (5600, 11.0), (5615, 10.5), (5632, 11.5), (5660, 11.5), (5685, 11.3), (5710, 12.0), (5728, 12.5),
            (5742, 14.0), (5752, 40), (5868, 40), (5876, 28.0), (5900, 25.0), (5922, 22.0), (5935, 18.0),
            (5948, 12.0), (5965, 10.5), (5982, 10.2), (6000, 10.3)]
br50_low = [(3600, 1.3), (3640, 1.2), (3665, 1.2), (3700, 2.0), (3740, 2.0), (3780, 1.6), (3810, 1.9),
            (3830, 1.8), (3850, 1.4), (3900, 1.4), (3960, 1.2), (4010, 1.2), (4060, 1.4), (4100, 1.7), (4150, 1.3),
            (4220, 1.4), (4280, 1.0), (4340, 1.4), (4390, 1.1), (4440, 1.6), (4500, 1.6), (4540, 1.9), (4570, 1.4),
            (4585, 1.6), (4595, 6.0), (4605, 14.0), (4625, 15.5), (4645, 16.5), (4660, 17.6), (4672, 15.0),
            (4682, 8.0), (4692, 6.5), (4702, 3.0), (4715, 1.5), (4760, 1.2), (4820, 1.6), (4860, 1.4), (4900, 1.1),
            (5000, 1.2), (5100, 1.1), (5200, 1.2), (5280, 1.4), (5320, 1.1), (5400, 1.9), (5440, 2.0), (5490, 1.5),
            (5540, 1.2), (5600, 1.6), (5650, 1.3), (5720, 1.3), (5760, 1.5), (5775, 4.0), (5790, 12.0),
            (5805, 18.0), (5820, 20.2), (5835, 17.0), (5842, 16.0), (5855, 9.0), (5870, 3.5), (5885, 2.8),
            (5915, 2.5), (5945, 1.5), (6000, 1.2)]

br62_top = [(3600, 9.8), (3610, 10.2), (3618, 9.6), (3628, 10.2), (3636, 9.7), (3648, 10.0), (3660, 11.5),
            (3672, 13.0), (3696, 13.5), (3709, 13.8), (3720, 13.0), (3728, 14.5), (3745, 13.5), (3757, 13.0),
            (3776, 12.5), (3793, 14.3), (3805, 14.3), (3817, 12.5), (3829, 11.0), (3841, 12.0), (3858, 10.5),
            (3873, 12.0), (3889, 11.5), (3902, 12.0), (3921, 10.0), (3930, 11.0), (3955, 11.0), (3974, 10.0),
            (3998, 11.3), (4034, 11.2), (4046, 10.0), (4070, 10.3), (4119, 10.5), (4155, 10.3), (4179, 10.8),
            (4203, 10.3), (4227, 10.0), (4287, 9.6), (4312, 10.0), (4336, 10.5), (4348, 9.8), (4365, 10.5),
            (4384, 9.8), (4408, 9.6), (4432, 10.5), (4451, 11.2), (4468, 10.8), (4505, 11.5), (4541, 12.0),
            (4565, 11.8), (4577, 11.0), (4594, 10.0), (4601, 20.0), (4606, 40), (4702, 40), (4712, 18.0),
            (4726, 12.0), (4746, 10.5), (4770, 10.0), (4789, 10.0), (4818, 11.8), (4842, 11.5), (4854, 11.8),
            (4878, 11.0), (4902, 10.3), (4927, 10.5), (4951, 10.2), (4975, 10.5), (4987, 9.8), (4999, 9.0),
            (5011, 10.8), (5035, 10.5), (5059, 10.0), (5083, 10.5), (5132, 10.3), (5168, 10.0), (5204, 10.3),
            (5240, 10.8), (5264, 11.2), (5288, 11.5), (5313, 11.0), (5337, 10.5), (5373, 10.8), (5392, 13.0),
            (5421, 13.5), (5440, 13.8), (5457, 13.0), (5481, 12.0), (5506, 11.0), (5522, 10.5), (5547, 11.8),
            (5561, 12.5), (5578, 12.0), (5609, 11.5), (5633, 10.5), (5657, 10.3), (5674, 10.8), (5706, 10.5),
            (5735, 10.2), (5747, 14.0), (5759, 40), (5867, 40), (5879, 20.0), (5891, 17.0), (5903, 16.5),
            (5910, 16.0), (5928, 14.0), (5947, 11.5), (5964, 10.5), (6000, 10.5)]
br62_low = [(3600, 1.0), (3650, 1.0), (3700, 1.4), (3760, 1.5), (3800, 1.4), (3840, 1.5), (3880, 1.3),
            (3950, 1.2), (4050, 1.1), (4300, 1.0), (4500, 1.1), (4590, 1.1), (4600, 2.0), (4610, 3.8), (4630, 4.5),
            (4650, 5.0), (4668, 5.7), (4680, 5.0), (4692, 3.0), (4705, 1.8), (4725, 1.2), (4760, 1.0), (5000, 1.0),
            (5300, 1.1), (5400, 1.5), (5450, 1.6), (5500, 1.2), (5580, 1.5), (5650, 1.3), (5745, 1.3), (5760, 2.5),
            (5775, 6.0), (5790, 9.5), (5805, 10.6), (5820, 9.9), (5832, 9.5), (5842, 6.0), (5855, 2.5),
            (5875, 1.8), (5900, 1.7), (5930, 1.3), (6000, 1.2)]

names = ["Br7", "Br8", "Br9", "Br10", "Br22", "Br28", "Br31", "Br32", "Br43", "Br44", "Br50", "Br62"]
tops = [br7_top, br8_top, br9_top, br10_top, br22_top, br28_top,
        br31_top, br32_top, br43_top, br44_top, br50_top, br62_top]
lows = [br7_low, br8_low, br9_low, br10_low, br22_low, br28_low,
        br31_low, br32_low, br43_low, br44_low, br50_low, br62_low]

# line identifications marked on Br22
id_labels = ["H\u03b4", "HeII 4200", "H\u03b3", "HeI 4471", "HeII 4542", "H\u03b2", "HeII 5412"]
id_waves = [4101, 4200, 4340, 4471, 4542, 4861, 5412]
sky_waves = [4959, 5007]

W, H = 1280, 1548
fig = plt.figure(figsize=(W / 100, H / 100), dpi=100)

col_left = [192, 845]
row_bottom = [198, 463, 728, 993, 1258, 1521]
ax_w, ax_h = 405, 193

for i, name in enumerate(names):
    r, c = divmod(i, 2)
    x0, yb = col_left[c], row_bottom[r]
    ax = fig.add_axes([x0 / W, 1 - yb / H, ax_w / W, ax_h / H])

    w, f = zip(*tops[i])
    ax.plot(w, f, color='black', lw=0.9)
    w, f = zip(*lows[i])
    ax.plot(w, f, color='black', lw=0.9)

    ax.set_xlim(3600, 6000)
    ax.set_ylim(0, 32)
    ax.xaxis.set_major_locator(MultipleLocator(500))
    ax.xaxis.set_minor_locator(MultipleLocator(100))
    ax.yaxis.set_major_locator(MultipleLocator(10))
    ax.yaxis.set_minor_locator(MultipleLocator(2))
    ax.tick_params(which='both', direction='in', top=True, right=True, labelsize=8, width=0.6)
    ax.tick_params(which='major', length=5)
    ax.tick_params(which='minor', length=2.5)
    ax.tick_params(axis='x', pad=1.5)
    for s in ax.spines.values():
        s.set_linewidth(0.7)
    ax.set_xlabel('Wavelength (\u00c5)', fontsize=8.5, labelpad=-1)
    ax.set_ylabel('Rectified Intensity', fontsize=8, family='Liberation Sans', labelpad=4)

    if name == "Br22":
        ax.vlines(id_waves, 11.6, 13.2, color='black', lw=0.7)
        for lw_, lab in zip(id_waves, id_labels):
            ax.text(lw_, 13.5, lab, rotation=90, ha='center', va='bottom', fontsize=6.5)
        for sw in sky_waves:
            ax.text(sw, 11.0, '+', ha='center', va='bottom', fontsize=6)

    fig.text((x0 - 182) / W, 1 - (yb - 146) / H, name, fontsize=42,
             family='Liberation Serif', va='baseline', ha='left')

fig.savefig('out.png', dpi=100)
